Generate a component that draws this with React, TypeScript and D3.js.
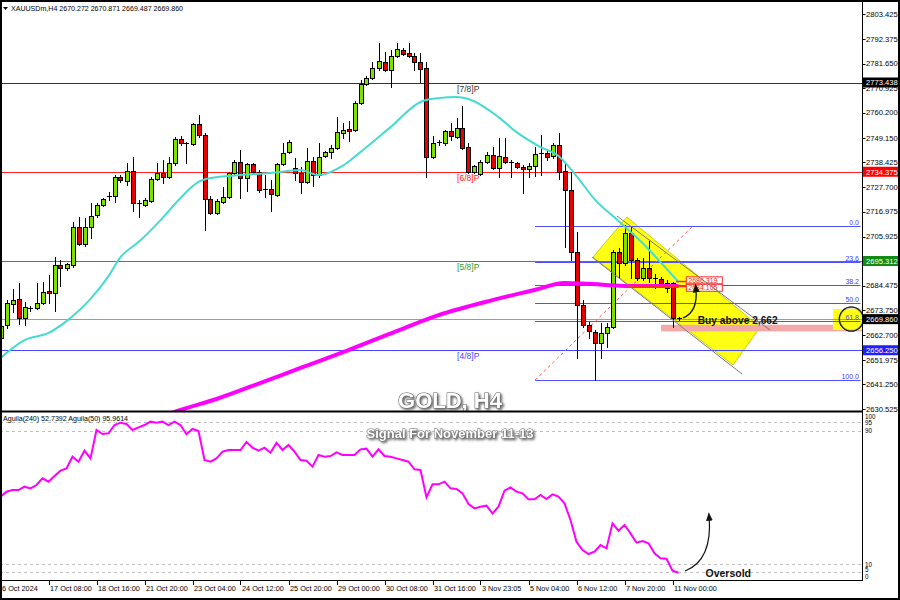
import React from 'react';
import * as d3 from 'd3';

// ---------- DATA ----------
const candleOpen = [
  2661.6, 2667.3, 2676.5, 2678.7, 2670.3, 2674.7, 2674.7, 2676.9, 2682.2, 2681.3,
  2693.5, 2692.2, 2693.5, 2710.1, 2702.7, 2710.1, 2715.4, 2719.8, 2723.3, 2723.7,
  2732.0, 2730.3, 2734.7, 2720.7, 2719.8, 2721.6, 2731.2, 2733.8, 2732.0, 2738.2,
  2748.7, 2747.0, 2746.6, 2755.3, 2750.4, 2722.4, 2716.3, 2721.1, 2723.3, 2733.8,
  2738.6, 2731.6, 2737.7, 2734.2, 2726.8, 2726.8, 2724.2, 2737.7, 2743.0, 2736.0,
  2733.8, 2729.9, 2739.1, 2732.9, 2741.3, 2743.0, 2744.8, 2751.3, 2753.1, 2752.6,
  2764.5, 2772.8, 2775.4, 2779.8, 2782.4, 2778.9, 2785.0, 2787.6, 2786.3, 2785.0,
  2782.4, 2779.8, 2740.8, 2747.0, 2747.0, 2752.2, 2749.6, 2753.5, 2745.2, 2734.2,
  2733.4, 2738.6, 2741.7, 2736.0, 2740.8, 2738.6, 2738.2, 2736.4, 2735.6, 2736.9,
  2742.6, 2742.6, 2741.3, 2746.1, 2734.7, 2726.4, 2699.2, 2676.0, 2667.3, 2664.2,
  2659.4, 2663.8, 2666.4, 2699.2, 2694.4, 2707.5, 2695.7, 2687.9, 2692.2, 2687.9,
  2687.5, 2683.5, 2685.7, 2670.272,
];
const candleHigh = [
  2668.6, 2678.2, 2683.1, 2685.7, 2677.3, 2675.6, 2685.7, 2686.1, 2689.2, 2697.0,
  2695.7, 2694.4, 2712.3, 2714.5, 2714.1, 2720.7, 2720.7, 2722.9, 2725.5, 2732.9,
  2732.9, 2738.2, 2740.8, 2722.0, 2722.9, 2732.0, 2738.2, 2739.5, 2740.8, 2749.6,
  2750.1, 2747.4, 2755.7, 2759.2, 2751.3, 2723.7, 2722.4, 2727.7, 2734.2, 2739.5,
  2743.9, 2738.2, 2738.2, 2735.1, 2732.9, 2730.7, 2738.2, 2747.0, 2748.3, 2740.4,
  2736.4, 2744.8, 2740.8, 2747.0, 2743.5, 2746.1, 2758.3, 2755.7, 2756.6, 2765.3,
  2774.5, 2776.3, 2782.4, 2790.7, 2786.7, 2787.6, 2790.7, 2788.5, 2790.7, 2786.3,
  2786.3, 2782.4, 2750.1, 2748.3, 2752.6, 2755.7, 2757.9, 2763.1, 2747.0, 2737.3,
  2739.5, 2743.0, 2745.2, 2749.1, 2749.1, 2739.5, 2738.6, 2737.3, 2738.2, 2745.2,
  2750.4, 2743.9, 2747.0, 2751.4, 2738.2, 2734.2, 2708.0, 2678.2, 2668.6, 2665.1,
  2668.2, 2668.2, 2700.1, 2701.0, 2711.0, 2710.2, 2696.6, 2696.6, 2704.5, 2689.7,
  2688.4, 2687.0, 2686.1, 2670.871,
];
const candleLow = [
  2659.8, 2666.0, 2672.9, 2667.7, 2667.3, 2673.3, 2674.2, 2676.5, 2676.9, 2673.3,
  2684.4, 2691.4, 2692.6, 2702.3, 2701.9, 2705.4, 2714.5, 2719.4, 2722.0, 2721.1,
  2729.9, 2728.5, 2717.2, 2714.5, 2719.4, 2721.1, 2730.7, 2729.4, 2731.6, 2737.3,
  2746.1, 2738.2, 2746.1, 2749.6, 2708.9, 2715.9, 2715.9, 2720.7, 2722.9, 2733.4,
  2722.9, 2725.9, 2733.8, 2725.5, 2723.3, 2717.2, 2723.7, 2737.3, 2742.6, 2730.7,
  2725.0, 2729.4, 2728.1, 2732.0, 2740.8, 2740.4, 2744.3, 2749.1, 2747.8, 2752.2,
  2764.0, 2772.3, 2774.9, 2778.9, 2778.5, 2771.4, 2784.6, 2785.5, 2784.6, 2778.9,
  2773.6, 2732.0, 2740.4, 2746.1, 2746.1, 2748.3, 2749.1, 2744.3, 2733.8, 2733.8,
  2732.9, 2738.2, 2735.6, 2732.0, 2738.2, 2732.0, 2736.0, 2725.0, 2732.0, 2732.5,
  2732.9, 2739.5, 2740.4, 2731.2, 2701.4, 2695.7, 2652.8, 2666.4, 2661.6, 2643.2,
  2652.8, 2657.6, 2666.0, 2688.3, 2693.5, 2687.9, 2687.0, 2687.0, 2686.2, 2683.5,
  2684.0, 2681.7, 2666.4, 2669.487,
];
const candleClose = [
  2666.9, 2676.9, 2678.2, 2670.3, 2675.1, 2674.2, 2676.9, 2681.7, 2681.3, 2693.5,
  2692.2, 2693.9, 2710.1, 2702.7, 2710.1, 2715.0, 2719.8, 2722.4, 2723.7, 2732.0,
  2730.7, 2734.7, 2720.7, 2720.5, 2722.0, 2731.2, 2733.8, 2732.0, 2738.2, 2748.7,
  2747.0, 2746.6, 2755.3, 2750.4, 2722.4, 2716.3, 2721.6, 2723.3, 2733.8, 2738.6,
  2731.6, 2737.7, 2734.2, 2726.4, 2726.6, 2724.6, 2737.7, 2742.6, 2747.4, 2733.8,
  2729.9, 2739.1, 2732.9, 2740.8, 2743.0, 2744.8, 2751.7, 2752.6, 2752.2, 2764.5,
  2772.8, 2775.4, 2779.8, 2782.8, 2778.9, 2785.0, 2788.1, 2785.9, 2785.0, 2782.4,
  2779.4, 2740.8, 2747.0, 2747.2, 2752.2, 2750.0, 2753.5, 2744.8, 2734.2, 2736.9,
  2738.6, 2741.7, 2736.0, 2741.3, 2738.6, 2738.4, 2736.4, 2735.6, 2736.9, 2742.2,
  2742.4, 2740.8, 2746.1, 2734.2, 2726.4, 2699.2, 2676.0, 2667.3, 2664.6, 2659.4,
  2663.8, 2666.4, 2699.2, 2694.4, 2707.5, 2695.7, 2687.9, 2692.2, 2687.9, 2687.7,
  2684.8, 2685.7, 2670.3, 2669.86,
];

// moving averages (read at sample bars)
const maFastIdx = [0, 4, 8, 11, 15, 18, 20, 23, 27, 30, 33, 35, 40, 45, 50, 53, 57, 60, 65, 70, 73, 76, 78, 83, 86, 90, 93, 96, 99, 103, 107, 110, 113];
const maFastVal = [2652.9, 2660.7, 2663.8, 2669.0, 2678.7, 2688.7, 2697.0, 2703.6, 2714.1, 2722.9, 2729.9, 2731.6, 2732.9, 2733.8, 2735.1, 2732.9, 2736.9, 2743.0, 2753.9, 2764.9, 2766.6, 2767.1, 2766.2, 2758.3, 2751.7, 2745.2, 2741.3, 2732.5, 2722.4, 2712.8, 2703.2, 2694.8, 2686.1];
const maSlowIdx = [25, 30, 36, 42, 50, 58, 66, 73, 82, 89, 94, 98, 104, 113];
const maSlowVal = [2625.3, 2630.1, 2634.9, 2640.6, 2648.5, 2656.3, 2664.6, 2671.6, 2678.2, 2682.6, 2685.7, 2685.3, 2684.4, 2684.4];

// oscillator
const aguilaVal = [
  50.4, 53.4, 54.4, 54.4, 56.4, 55.4, 57.4, 61.4, 59.4, 62.8,
  66.0, 67.4, 74.4, 71.4, 78.0, 73.4, 90.4, 88.0, 88.4, 93.4,
  94.8, 94.0, 90.4, 92.0, 93.4, 95.4, 94.8, 95.4, 93.4, 95.4,
  93.4, 87.8, 91.0, 89.8, 72.4, 71.4, 73.4, 77.4, 78.4, 78.4,
  78.4, 83.2, 79.8, 78.0, 79.8, 76.8, 82.8, 78.4, 81.4, 77.4,
  72.4, 72.0, 68.4, 75.4, 74.4, 74.8, 77.0, 75.4, 75.4, 75.4,
  78.8, 79.2, 74.4, 78.8, 74.8, 74.4, 73.4, 72.4, 71.4, 66.8,
  66.4, 50.0, 57.8, 57.8, 59.4, 55.4, 55.0, 52.4, 46.0, 43.4,
  44.4, 45.0, 40.4, 44.4, 54.0, 56.0, 53.4, 52.4, 48.8, 48.8,
  51.4, 49.0, 51.8, 50.4, 46.4, 36.4, 23.4, 18.4, 16.0, 17.4,
  21.4, 19.4, 34.4, 30.0, 33.4, 28.4, 22.8, 23.8, 22.4, 16.4,
  13.4, 13.2, 6.0, 4.8,
];
const aguilaLevels = [95, 90, 10, 5];
const aguilaAxisLabels = [100, 95, 90, 10, 5, 0];

const priceTicks = [2803.425, 2792.375, 2781.650, 2770.925, 2760.200, 2749.150, 2738.425, 2727.700, 2716.975, 2705.925, 2684.475, 2673.750, 2662.700, 2651.975, 2641.250, 2630.525];
const timeLabels = ['16 Oct 2024', '17 Oct 08:00', '18 Oct 16:00', '21 Oct 20:00', '23 Oct 04:00', '24 Oct 12:00', '25 Oct 20:00', '29 Oct 00:00', '30 Oct 08:00', '31 Oct 16:00', '3 Nov 23:05', '5 Nov 04:00', '6 Nov 12:00', '7 Nov 20:00', '11 Nov 00:00'];
const timeLabelIdx = [0, 8, 16, 24, 32, 40, 48, 56, 64, 72, 80, 88, 96, 104, 112];

const pivotPrices = [2773.438, 2734.375, 2695.312, 2656.25];
const pivotNames = ['[7/8]P', '[6/8]P', '[5/8]P', '[4/8]P'];
const bidPrice = 2669.86;

const fibRatios = [0, 23.6, 38.2, 50, 61.8, 100];
const fibHigh = 2710.6;
const fibLow = 2643.2;
const fibStartIdx = 89.1;
const fibEndIdx = 115.4;

const channelPolyIdx = [98.75, 104.4, 126.6, 122.1];
const channelPolyPrice = [2697.0, 2714.5, 2666.4, 2649.8];
const channelUpperIdx = [102.75, 128.25];
const channelUpperPrice = [2715.0, 2665.1];
const channelLowerIdx = [98.6, 123.6];
const channelLowerPrice = [2697.0, 2645.8];

const linePriceLabels = [2686.319, 2684.105];
const buyZone = [2664.5, 2667.4];

// ---------- STYLE ----------
const FONT = "'Liberation Sans', Arial, sans-serif";
const BULL = '#7fe000';
const BEAR = '#e60000';
const pivotColors = ['#333333', '#ff2020', '#2e9a2e', '#4646ff'];
const pivotBoxColors = ['#000000', '#ff0000', '#138a13', '#1f1fff'];

export default function App() {
  const n = candleOpen.length;
  const x = d3.scaleLinear().domain([0, 113]).range([0.5, 678.5]);
  const y = d3.scaleLinear().domain([2630.525, 2803.425]).range([409, 14]);
  const yi = d3.scaleLinear().domain([0, 100]).range([580.7, 414]);
  const axisX = 862.5;

  const fastPath = d3.line<number>()
    .x((_, k) => x(maFastIdx[k]))
    .y((v) => y(v))
    .curve(d3.curveMonotoneX)(maFastVal) as string;
  const slowPath = d3.line<number>()
    .x((_, k) => x(maSlowIdx[k]))
    .y((v) => y(v))
    .curve(d3.curveMonotoneX)(maSlowVal) as string;
  const aguilaPath = d3.line<number>()
    .x((_, k) => x(k))
    .y((v) => yi(v))(aguilaVal) as string;

  const polyPts = channelPolyIdx.map((ix, k) => `${x(ix)},${y(channelPolyPrice[k])}`).join(' ');

  const buyStart = [x(113.75), y(2670.4)];
  const buyCtrl = [x(116.3), y(2673.0)];
  const buyEnd = [x(115.9), y(2683.5)];
  const osStart = [x(114.1), yi(5.8)];
  const osCtrl = [x(118.7), yi(12.4)];
  const osEnd = [x(118.1), yi(38.5)];

  const boxLabels = [
    { p: pivotPrices[0], c: pivotBoxColors[0] },
    { p: pivotPrices[1], c: pivotBoxColors[1] },
    { p: pivotPrices[2], c: pivotBoxColors[2] },
    { p: bidPrice, c: '#000000' },
    { p: pivotPrices[3], c: pivotBoxColors[3] },
  ];
  const aguilaLabelY = [418.5, 424.5, 432.5, 566.5, 572, 578.5];
  const labelShift = [-1.2, 1.2];

  return (
    <svg width={900} height={600} style={{ position: 'absolute', left: 0, top: 0, background: '#fff' }} fontFamily={FONT}>
      <defs>
        <clipPath id="mainClip"><rect x={0} y={4} width={862} height={407} /></clipPath>
        <clipPath id="indClip"><rect x={0} y={413} width={862} height={167} /></clipPath>
        <clipPath id="allClip"><rect x={0} y={0} width={862} height={600} /></clipPath>
        <marker id="arrowHead" viewBox="0 0 10 10" refX={5} refY={5} markerWidth={7} markerHeight={7} orient="auto">
          <path d="M0,1 L10,5 L0,9 z" fill="#111" />
        </marker>
        <filter id="txtShadow" x="-10%" y="-30%" width="120%" height="160%">
          <feDropShadow dx={1.6} dy={1.6} stdDeviation={1.1} floodColor="#555" floodOpacity={0.9} />
        </filter>
        <radialGradient id="circGrad">
          <stop offset="0.78" stopColor="#ffff00" stopOpacity={0} />
          <stop offset="0.9" stopColor="#777" stopOpacity={0.5} />
          <stop offset="1" stopColor="#222" stopOpacity={0.9} />
        </radialGradient>
      </defs>
      <rect x={0} y={0} width={900} height={600} fill="#fff" />

      {/* MAIN PANEL */}
      <g clipPath="url(#mainClip)">
        <polygon points={polyPts} fill="#ffff14" stroke="#cfcf00" strokeWidth={1} />
        <rect x={x(110.1)} y={y(buyZone[1])} width={axisX - x(110.1)} height={y(buyZone[0]) - y(buyZone[1])} fill="#f4a9a9" />
        <rect x={x(138.75)} y={y(2674.3)} width={axisX - x(138.75)} height={y(2665.1) - y(2674.3)} fill="#ffff14" />

        {pivotPrices.map((p, k) => (
          <line key={'pv' + k} x1={0} x2={axisX} y1={Math.round(y(p)) + 0.5} y2={Math.round(y(p)) + 0.5} stroke={pivotColors[k]} strokeWidth={1} />
        ))}
        <line x1={0} x2={axisX} y1={Math.round(y(bidPrice)) + 0.5} y2={Math.round(y(bidPrice)) + 0.5} stroke="#8f9bbd" strokeWidth={1} />
        {pivotNames.map((t, k) => (
          <text key={'pn' + k} x={x(76.1)} y={Math.round(y(pivotPrices[k])) + 9} fontSize={8.5} fill={pivotColors[k]}>{t}</text>
        ))}

        {fibRatios.map((r, k) => {
          const p = fibHigh - (fibHigh - fibLow) * r / 100;
          const yy = Math.round(y(p)) + 0.5;
          return (
            <g key={'fb' + k}>
              <line x1={x(fibStartIdx)} x2={axisX - 2} y1={yy} y2={yy} stroke="#5050ff" strokeWidth={1} />
              <text x={859} y={yy - 2} fontSize={7} fill="#4040ff" textAnchor="end">{r.toFixed(1)}</text>
            </g>
          );
        })}
        <line x1={x(fibStartIdx)} y1={y(fibLow)} x2={x(fibEndIdx)} y2={y(fibHigh)} stroke="#ff5555" strokeWidth={1} strokeDasharray="3,3" />

        {d3.range(n).map((i) => {
          const cx = Math.round(x(i)) + 0.5;
          const o = candleOpen[i], c = candleClose[i];
          const yT = Math.round(y(Math.max(o, c)));
          const yB = Math.round(y(Math.min(o, c)));
          const bull = c > o;
          return (
            <g key={'c' + i}>
              <line x1={cx} x2={cx} y1={Math.round(y(candleHigh[i]))} y2={Math.round(y(candleLow[i])) + 1} stroke="#000" strokeWidth={1} />
              {yB - yT >= 2 ? (
                <rect x={cx - 2} y={yT + 0.5} width={4} height={yB - yT} fill={bull ? BULL : BEAR} stroke="#000" strokeWidth={1} />
              ) : (
                <line x1={cx - 2.5} x2={cx + 2.5} y1={yT + 0.5} y2={yT + 0.5} stroke="#000" strokeWidth={1} />
              )}
            </g>
          );
        })}

        <path d={fastPath} fill="none" stroke="#44dccf" strokeWidth={2} />
        <path d={slowPath} fill="none" stroke="#ff00ff" strokeWidth={4} />

        <line x1={x(104.5)} x2={x(114.3)} y1={y(linePriceLabels[1])} y2={y(linePriceLabels[1])} stroke="#ff2a2a" strokeWidth={1.5} />
        <line x1={x(112.6)} x2={x(114.3)} y1={y(linePriceLabels[0])} y2={y(linePriceLabels[0])} stroke="#ff2a2a" strokeWidth={1.5} />
        {linePriceLabels.map((p, k) => {
          const cy = y(p) + labelShift[k];
          return (
            <g key={'lp' + k}>
              <rect x={x(114.3)} y={cy - 3.5} width={36} height={7} fill="#fff" stroke="#ff2a2a" strokeWidth={1} />
              <text x={x(114.3) + 2} y={cy + 2.4} fontSize={7} fill="#ff2020">{p.toFixed(3)}</text>
            </g>
          );
        })}

        <line x1={x(channelUpperIdx[0])} y1={y(channelUpperPrice[0])} x2={x(channelUpperIdx[1])} y2={y(channelUpperPrice[1])} stroke="#7a7a7a" strokeWidth={1} />
        <line x1={x(channelLowerIdx[0])} y1={y(channelLowerPrice[0])} x2={x(channelLowerIdx[1])} y2={y(channelLowerPrice[1])} stroke="#7a7a7a" strokeWidth={1} />

        <circle cx={x(141.8)} cy={y(2669.9)} r={12.5} fill="url(#circGrad)" />
        <circle cx={x(141.8)} cy={y(2669.9)} r={12} fill="none" stroke="#1a1a1a" strokeWidth={1.1} />

        <path d={`M${buyStart[0]},${buyStart[1]} Q${buyCtrl[0]},${buyCtrl[1]} ${buyEnd[0]},${buyEnd[1]}`} fill="none" stroke="#111" strokeWidth={1.3} markerEnd="url(#arrowHead)" />
        <text x={x(116.2)} y={y(2667.6)} fontSize={11} fontWeight="bold" fill="#111" textLength={80} lengthAdjust="spacingAndGlyphs">Buy above 2,662</text>

        <text x={450} y={408} fontSize={22} fontWeight="bold" textAnchor="middle" fill="#ffffff" stroke="#6a6a6a" strokeWidth={1.1} style={{ paintOrder: 'stroke' }} filter="url(#txtShadow)">GOLD, H4</text>
      </g>

      {/* header */}
      <path d="M3,7 L8,7 L5.5,10 z" fill="#000" />
      <text x={11} y={11} fontSize={8} fill="#000" textLength={172} lengthAdjust="spacingAndGlyphs">XAUUSDm,H4  2670.272 2670.871 2669.487 2669.860</text>

      <line x1={0} x2={axisX} y1={411.5} y2={411.5} stroke="#000" strokeWidth={2} />
      <line x1={axisX} x2={axisX} y1={0} y2={581} stroke="#000" strokeWidth={1} />
      <line x1={0} x2={axisX} y1={580.5} y2={580.5} stroke="#000" strokeWidth={1} />

      {priceTicks.map((p, k) => (
        <g key={'pt' + k}>
          <line x1={axisX} x2={axisX + 3} y1={Math.round(y(p)) + 0.5} y2={Math.round(y(p)) + 0.5} stroke="#000" />
          <text x={866} y={y(p) + 2.6} fontSize={7.6} fill="#000">{p.toFixed(3)}</text>
        </g>
      ))}
      {boxLabels.map((b, k) => (
        <g key={'bx' + k}>
          <rect x={863} y={y(b.p) - 5} width={35} height={10} fill={b.c} />
          <text x={866} y={y(b.p) + 2.8} fontSize={7.6} fill="#fff">{b.p.toFixed(3)}</text>
        </g>
      ))}

      {/* INDICATOR PANEL */}
      <g clipPath="url(#indClip)">
        {aguilaLevels.map((v, k) => (
          <line key={'al' + k} x1={0} x2={axisX} y1={Math.round(yi(v)) + 0.5} y2={Math.round(yi(v)) + 0.5} stroke="#c0c0c0" strokeWidth={1} strokeDasharray="3,3" />
        ))}
        <path d={aguilaPath} fill="none" stroke="#ff00ff" strokeWidth={2} />
        <path d={`M${osStart[0]},${osStart[1]} Q${osCtrl[0]},${osCtrl[1]} ${osEnd[0]},${osEnd[1]}`} fill="none" stroke="#111" strokeWidth={1.2} markerEnd="url(#arrowHead)" />
        <text x={x(117.5)} y={yi(2.2)} fontSize={10.5} fontWeight="bold" fill="#111">Oversold</text>
        <text x={450} y={438} fontSize={13} fontWeight="bold" textAnchor="middle" fill="#ffffff" stroke="#6a6a6a" strokeWidth={1} style={{ paintOrder: 'stroke' }} filter="url(#txtShadow)">Signal For November 11-13</text>
      </g>
      <text x={3} y={421} fontSize={7.6} fill="#000" textLength={125} lengthAdjust="spacingAndGlyphs">Aguila(240) 52.7392  Aguila(50) 95.9614</text>
      {aguilaAxisLabels.map((v, k) => (
        <text key={'aa' + k} x={865} y={aguilaLabelY[k]} fontSize={6.3} fill="#000">{v}</text>
      ))}

      <g clipPath="url(#allClip)">
        {timeLabelIdx.map((ix, k) => (
          <g key={'tl' + k}>
            <line x1={Math.round(x(ix)) + 0.5} x2={Math.round(x(ix)) + 0.5} y1={580} y2={585} stroke="#000" />
            <text x={k === 0 ? x(ix) - 2.5 : x(ix) + 1.5} y={591} fontSize={7.3} fill="#000">{timeLabels[k]}</text>
          </g>
        ))}
      </g>

      <rect x={1} y={1} width={898} height={598} fill="none" stroke="#000" strokeWidth={2} />
    </svg>
  );
}
